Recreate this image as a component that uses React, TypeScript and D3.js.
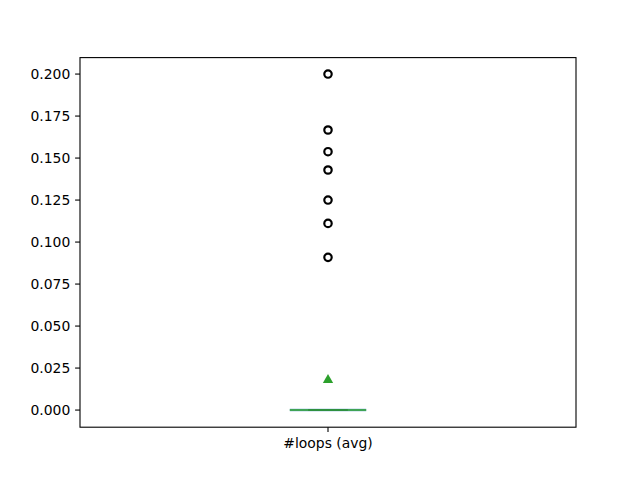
import * as d3 from 'd3';

const category = '#loops (avg)';
const outliers = [0.2, 0.1667, 0.1538, 0.1429, 0.125, 0.1111, 0.0909];
const boxStats = { q1: 0, median: 0, q3: 0, whiskerLow: 0, whiskerHigh: 0, mean: 0.0179 };
const yTicks = [0, 0.025, 0.05, 0.075, 0.1, 0.125, 0.15, 0.175, 0.2];

export default function App() {
  const width = 640;
  const height = 480;
  const left = 80, right = 576, top = 57.6, bottom = 427.2;

  const x = d3.scaleLinear().domain([0.5, 1.5]).range([left, right]);
  const y = d3.scaleLinear().domain([-0.0102, 0.2098]).range([bottom, top]);

  const pos = 1;
  const boxHalf = 0.04;
  const capHalf = 0.077;
  const tri = d3.symbol().type(d3.symbolTriangle).size(46)();

  return (
    <svg width={width} height={height} style={{ position: 'absolute', left: 0, top: 0, background: '#fff' }}
      fontFamily="DejaVu Sans" fontSize={13.9}>
      <rect x={0} y={0} width={width} height={height} fill="#fff" />
      {/* caps / whiskers */}
      <line x1={x(pos - capHalf)} x2={x(pos + capHalf)} y1={y(boxStats.whiskerLow)} y2={y(boxStats.whiskerLow)}
        stroke="#1f77b4" strokeWidth={2.6} opacity={0.6} />
      <line x1={x(pos - capHalf)} x2={x(pos + capHalf)} y1={y(boxStats.whiskerLow)} y2={y(boxStats.whiskerLow)}
        stroke="#2ca02c" strokeWidth={1.5} />
      {/* box */}
      <rect x={x(pos - boxHalf)} y={y(boxStats.q3)} width={x(pos + boxHalf) - x(pos - boxHalf)}
        height={Math.max(0, y(boxStats.q1) - y(boxStats.q3))} fill="none" stroke="#1f77b4" strokeWidth={1.4} />
      <line x1={x(pos - boxHalf)} x2={x(pos + boxHalf)} y1={y(boxStats.median)} y2={y(boxStats.median)}
        stroke="#2a8a3a" strokeWidth={1.6} />
      {/* mean */}
      <path d={tri} transform={`translate(${x(pos)},${y(boxStats.mean)})`} fill="#2ca02c" />
      {/* fliers */}
      {outliers.map((v, i) => (
        <circle key={i} cx={x(pos)} cy={y(v)} r={3.7} fill="none" stroke="#000" strokeWidth={2.2} />
      ))}
      {/* frame */}
      <rect x={left} y={top} width={right - left} height={bottom - top} fill="none" stroke="#000" strokeWidth={1.1} />
      {/* y axis */}
      {yTicks.map((t) => (
        <g key={t} transform={`translate(${left},${y(t)})`}>
          <line x1={-4.9} x2={0} stroke="#000" strokeWidth={1.1} />
          <text x={-9.7} dy="0.35em" textAnchor="end" fill="#000">{t.toFixed(3)}</text>
        </g>
      ))}
      {/* x axis */}
      <g transform={`translate(${x(pos)},${bottom})`}>
        <line y1={0} y2={4.9} stroke="#000" strokeWidth={1.1} />
        <text y={20.5} textAnchor="middle" fill="#000">{category}</text>
      </g>
    </svg>
  );
}
